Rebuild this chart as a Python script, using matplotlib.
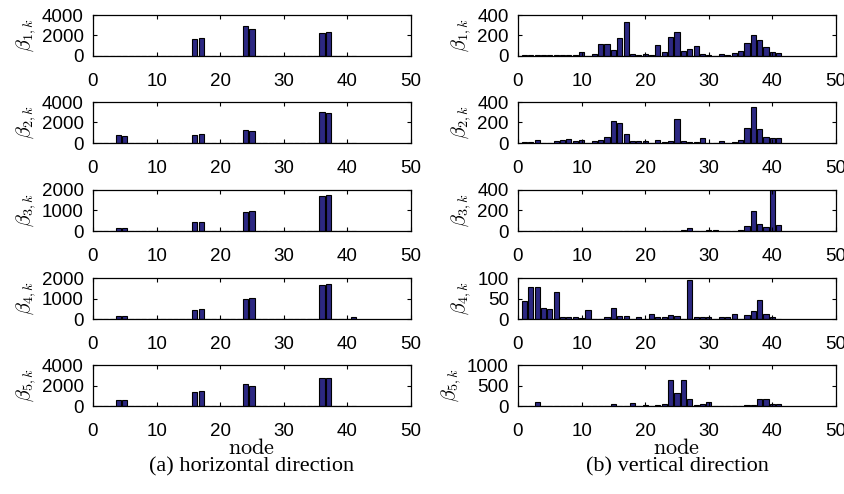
import numpy as np
import matplotlib
matplotlib.use("Agg")
import matplotlib.pyplot as plt

plt.rcParams['font.family'] = ['Liberation Sans', 'DejaVu Sans']
plt.rcParams['mathtext.fontset'] = 'cm'

# nodes 1..41
nodes = np.arange(1, 42)

# (a) horizontal direction
h1 = [5, 5, 30, 30, 10, 5, 40, 5, 5, 5, 5, 5, 5, 5, 5, 1640, 1730, 5, 5, 5,
      5, 5, 5, 2900, 2650, 5, 5, 5, 5, 5, 5, 5, 5, 5, 5, 2270, 2300, 5, 5, 5, 5]
h2 = [5, 5, 5, 750, 650, 5, 5, 5, 5, 5, 5, 5, 5, 5, 5, 750, 850, 5, 5, 5,
      5, 5, 5, 1250, 1180, 5, 5, 5, 5, 5, 5, 5, 5, 5, 5, 3020, 2950, 5, 5, 5, 10]
h3 = [2, 2, 2, 145, 145, 2, 2, 2, 2, 2, 2, 2, 2, 2, 2, 415, 430, 2, 2, 2,
      2, 2, 2, 930, 975, 2, 2, 2, 2, 2, 2, 2, 2, 2, 2, 1730, 1760, 2, 2, 2, 5]
h4 = [2, 2, 2, 145, 145, 2, 2, 2, 2, 2, 2, 2, 2, 2, 2, 455, 470, 2, 2, 2,
      2, 2, 2, 975, 1010, 2, 2, 2, 2, 2, 2, 2, 2, 10, 2, 1675, 1710, 2, 2, 2, 80]
h5 = [5, 5, 5, 540, 540, 5, 5, 5, 5, 5, 5, 5, 5, 5, 5, 1320, 1420, 5, 5, 5,
      5, 5, 5, 2170, 1970, 5, 5, 5, 5, 5, 5, 5, 5, 5, 5, 2780, 2780, 5, 5, 5, 10]

# (b) vertical direction
v1 = [8, 10, 10, 5, 5, 8, 10, 8, 12, 40, 3, 20, 120, 120, 63, 180, 330, 23, 5, 20,
      5, 110, 40, 183, 230, 53, 67, 93, 20, 5, 3, 15, 5, 25, 47, 130, 203, 153, 90, 43, 33]
v2 = [10, 10, 30, 3, 3, 17, 27, 35, 20, 30, 3, 20, 30, 60, 210, 197, 85, 20, 15, 20,
      3, 25, 5, 15, 237, 20, 8, 8, 50, 3, 3, 18, 3, 10, 25, 145, 355, 135, 58, 47, 45]
v3 = [1, 1, 1, 1, 1, 1, 1, 1, 1, 1, 1, 1, 1, 1, 1, 1, 1, 1, 1, 1,
      1, 1, 2, 2, 3, 10, 30, 2, 2, 5, 5, 1, 1, 3, 12, 53, 193, 70, 37, 400, 57]
v4 = [44, 78, 79, 26, 25, 65, 5, 4, 4, 3, 21, 0.5, 0.5, 5, 27, 8, 7, 0.5, 6, 1,
      12, 6, 4, 9, 8, 0.5, 96, 6, 5, 4, 0.5, 5, 4, 12, 0.5, 10, 20, 46, 13, 5, 1]
v5 = [5, 5, 88, 5, 5, 5, 5, 5, 5, 5, 5, 5, 5, 5, 40, 5, 5, 80, 5, 20,
      10, 20, 50, 630, 315, 630, 170, 20, 60, 105, 10, 10, 10, 10, 10, 20, 30, 160, 160, 50, 60]

left_data = [h1, h2, h3, h4, h5]
right_data = [v1, v2, v3, v4, v5]
left_yticks = [[0, 2000, 4000], [0, 2000, 4000], [0, 1000, 2000], [0, 1000, 2000], [0, 2000, 4000]]
right_yticks = [[0, 200, 400], [0, 200, 400], [0, 200, 400], [0, 50, 100], [0, 500, 1000]]
ylabels = [r'$\beta_{%d,k}$' % (i + 1) for i in range(5)]

bar_color = '#2c2882'
W, H = 845, 494
fig = plt.figure(figsize=(8.45, 4.94), dpi=100)

tops = [15, 102, 190, 278, 365]
ax_h = 41
lefts = [93, 518]
ax_w = 318

for col, (data, yt) in enumerate([(left_data, left_yticks), (right_data, right_yticks)]):
    for row in range(5):
        ax = fig.add_axes([lefts[col] / W, 1 - (tops[row] + ax_h) / H, ax_w / W, ax_h / H])
        ax.bar(nodes, data[row], width=0.8, color=bar_color, edgecolor='black', linewidth=0.8)
        ax.set_xlim(0, 50)
        ax.set_ylim(0, yt[row][-1])
        ax.set_xticks([0, 10, 20, 30, 40, 50])
        ax.set_yticks(yt[row])
        ax.tick_params(direction='in', top=True, right=True, labelsize=13.5,
                       length=3, width=0.8)
        ax.tick_params(axis='x', pad=12.5)
        ax.tick_params(axis='y', pad=6.5)
        for s in ax.spines.values():
            s.set_linewidth(0.9)
        ax.set_ylabel(ylabels[row], fontsize=14.5, labelpad=3)
        if row == 4:
            ax.set_xlabel(r'$\mathrm{node}$', fontsize=16, labelpad=-2)

fig.text((93 + ax_w / 2) / W, 1 - 467 / H, '(a) horizontal direction',
         ha='center', va='center', family=['Liberation Serif'], fontsize=16)
fig.text((518 + ax_w / 2) / W, 1 - 467 / H, '(b) vertical direction',
         ha='center', va='center', family=['Liberation Serif'], fontsize=16)

fig.savefig('out.png', dpi=100)
